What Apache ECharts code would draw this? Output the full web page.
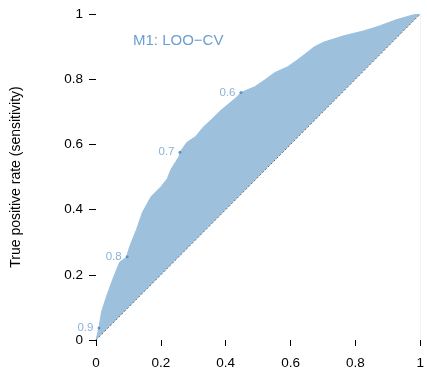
<!DOCTYPE html>
<html>
<head>
<meta charset="utf-8">
<script src="https://cdn.jsdelivr.net/npm/echarts@6/dist/echarts.min.js"></script>
<style>
  html, body { margin: 0; padding: 0; background: #fff; }
  #chart { width: 427px; height: 370px; }
</style>
</head>
<body>
<div id="chart"></div>
<script>
// ROC curve (false positive rate, true positive rate)
const fpr = [0, 0.009, 0.017, 0.033, 0.052, 0.073, 0.094, 0.104, 0.125, 0.143, 0.170, 0.201, 0.220, 0.231,
    0.256, 0.259, 0.280, 0.307, 0.332, 0.356, 0.387, 0.432, 0.447, 0.490, 0.521, 0.551, 0.591, 0.621,
    0.642, 0.673, 0.703, 0.764, 0.825, 0.874, 0.925, 0.977, 1]
const tpr = [0, 0.037, 0.086, 0.135, 0.187, 0.239, 0.254, 0.287, 0.339, 0.391, 0.440, 0.471, 0.495, 0.523,
    0.563, 0.576, 0.606, 0.624, 0.654, 0.676, 0.706, 0.743, 0.759, 0.777, 0.798, 0.820, 0.838, 0.859,
    0.875, 0.899, 0.914, 0.933, 0.948, 0.963, 0.982, 0.997, 1]

// cutoff points marked on the curve
const cutFpr = [0.009, 0.096, 0.259, 0.447]
const cutTpr = [0.037, 0.255, 0.576, 0.759]
const cutLabels = ['0.9', '0.8', '0.7', '0.6']

const diagonal = [[0, 0], [1, 1]]
const modelName = 'M1: LOO\u2212CV'
const aucValue = '0.705'

const fill = '#9dc0dd'
const blue = '#6b9fcf'

function addChart(dom, option) {
    let myChart = echarts.init(dom)
    myChart.setOption(option)
    window.addEventListener('resize', function () {
        myChart.resize()
    })
    return myChart
}

let curve = fpr.map((x, i) => [x, tpr[i]])
let cuts = cutFpr.map((x, i) => ({ value: [x, cutTpr[i]], label: { formatter: cutLabels[i] } }))

let axisFont = { fontFamily: 'Liberation Sans, Arial, sans-serif', fontSize: 13.5, color: '#000' }

let option = {
    animation: false,
    grid: { left: 96, right: 2.5, top: 14, bottom: 29 },
    xAxis: {
        type: 'value', min: 0, max: 1, interval: 0.2, offset: 5,
        axisLine: { show: false },
        axisTick: { show: true, length: 6, lineStyle: { color: '#000', width: 1 } },
        axisLabel: Object.assign({ margin: 11, formatter: v => String(+v.toFixed(1)) }, axisFont),
        splitLine: { show: false }
    },
    yAxis: {
        type: 'value', min: 0, max: 1, interval: 0.2, offset: 3,
        name: 'True positive rate (sensitivity)',
        nameLocation: 'middle', nameGap: 70,
        nameTextStyle: { fontFamily: 'Liberation Sans, Arial, sans-serif', fontSize: 14, color: '#000' },
        axisLine: { show: false },
        axisTick: { show: true, length: 7, lineStyle: { color: '#000', width: 1 } },
        axisLabel: Object.assign({ margin: 10, formatter: v => String(+v.toFixed(1)) }, axisFont),
        splitLine: { show: false }
    },
    series: [
        {
            type: 'line', data: curve, symbol: 'none', z: 1,
            lineStyle: { color: fill, width: 1 },
            areaStyle: { color: fill, opacity: 1, origin: 'start' }
        },
        {
            type: 'line', data: diagonal, symbol: 'none', z: 2,
            lineStyle: { color: '#666', width: 1, type: [2, 2] },
            areaStyle: { color: '#fff', opacity: 1, origin: 'start' }
        },
        {
            type: 'scatter', data: cuts, symbolSize: 3, z: 3,
            itemStyle: { color: '#4a84be' },
            label: {
                show: true, position: 'left', distance: 4,
                fontFamily: 'Liberation Sans, Arial, sans-serif', fontSize: 11.5, color: blue
            }
        }
    ],
    graphic: [
        {
            type: 'text', left: 133, top: 33,
            style: { text: modelName, fill: blue, font: '15px Liberation Sans, Arial, sans-serif' }
        },
        {
            type: 'text', x: 359, y: 178,
            style: { text: 'AUC', fill: '#000', align: 'center', verticalAlign: 'middle', font: '13.5px Liberation Sans, Arial, sans-serif' }
        },
        {
            type: 'text', x: 359, y: 205,
            style: { text: aucValue, fill: blue, align: 'center', verticalAlign: 'middle', font: '13.5px Liberation Sans, Arial, sans-serif' }
        }
    ]
}

addChart(document.getElementById('chart'), option)
</script>
</body>
</html>
